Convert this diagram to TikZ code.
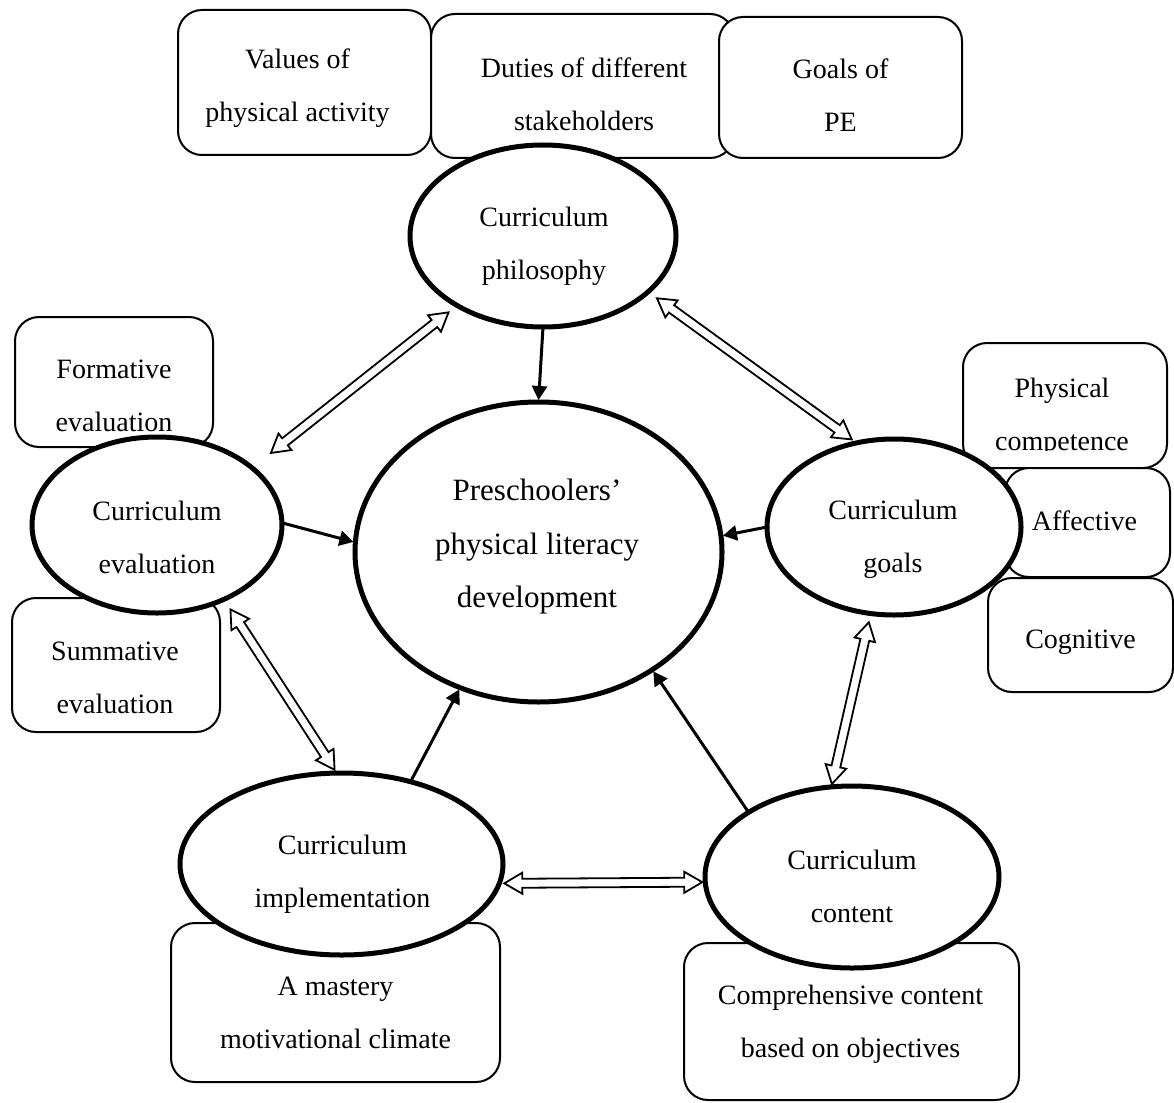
\documentclass[tikz,border=0pt]{standalone}
\usepackage{fontspec}
\setmainfont{Liberation Serif}
\usetikzlibrary{shapes.geometric,arrows.meta,calc}

% text sizes
\newcommand\capfont{\fontsize{28}{53}\selectfont}
\newcommand\corefont{\fontsize{31}{53.5}\selectfont}

% outline double arrow: head length, barb half-width, shaft half-width
\newcommand\twhead{18pt}
\newcommand\twbarb{10.5pt}
\newcommand\twshaft{4.5pt}

% #1, #2: border points of the two nodes; #3, #4: gap left at each end
\newcommand\twoway[4]{%
  \coordinate (tw-a) at ($(#1)!#3!(#2)$);
  \coordinate (tw-b) at ($(#2)!#4!(#1)$);
  \draw[exchange] (tw-a)
    -- ($(tw-a)!\twhead!(tw-b)!\twbarb!90:(tw-b)$)
    -- ($(tw-a)!\twhead!(tw-b)!\twshaft!90:(tw-b)$)
    -- ($(tw-b)!\twhead!(tw-a)!\twshaft!-90:(tw-a)$)
    -- ($(tw-b)!\twhead!(tw-a)!\twbarb!-90:(tw-a)$)
    -- (tw-b)
    -- ($(tw-b)!\twhead!(tw-a)!\twbarb!90:(tw-a)$)
    -- ($(tw-b)!\twhead!(tw-a)!\twshaft!90:(tw-a)$)
    -- ($(tw-a)!\twhead!(tw-b)!\twshaft!-90:(tw-b)$)
    -- ($(tw-a)!\twhead!(tw-b)!\twbarb!-90:(tw-b)$)
    -- cycle;
}

\tikzset{
  card/.style={draw, line width=2pt, rounded corners=24pt, fill=white, inner sep=0pt},
  bubble/.style={draw, ellipse, line width=5pt, fill=white, inner sep=0pt, outer sep=0pt},
  caption/.style={align=center, inner sep=0pt, font=\capfont},
  feeds/.style={line width=3pt, shorten >=2pt, -{Triangle[length=14pt,width=15pt]}},
  exchange/.style={draw, line width=1.8pt, fill=white, line join=miter},
}

\begin{document}
\begin{tikzpicture}[x=1pt, y=-1pt]
\useasboundingbox (0,0) rectangle (1174,1102);

% philosophy sources
\node[card, minimum width=253pt, minimum height=145pt] (values) at (304.5,82.5) {};
\node[caption] (values-t) at ([shift={(-7,5.5)}]values.center) {Values of\\physical activity};
\node[card, minimum width=303pt, minimum height=144pt] (duties) at (582.5,86) {};
\node[caption] (duties-t) at ([shift={(1.5,8)}]duties.center) {Duties of different\\stakeholders};
\node[card, minimum width=243pt, minimum height=141pt] (pegoals) at (840.5,87.5) {};
\node[caption] (pegoals-t) at ([shift={(0,7.5)}]pegoals.center) {Goals of\\PE};

% goal domains
\node[card, minimum width=204pt, minimum height=125pt] (physical) at (1065,405.5) {};
\begin{scope}
  \clip (physical.north west) rectangle ([yshift=19pt]physical.south east);
  \node[caption] (physical-t) at ([shift={(-3,12)}]physical.center) {Physical\\competence};
\end{scope}
\node[card, minimum width=165pt, minimum height=109pt] (affective) at (1087.5,522.5) {};
\node[caption] (affective-t) at ([shift={(-3,-2)}]affective.center) {Affective};
\node[card, minimum width=185pt, minimum height=114pt] (cognitive) at (1080.5,635) {};
\node[caption] (cognitive-t) at ([shift={(0,7)}]cognitive.center) {Cognitive};

% evaluation types
\node[card, minimum width=198pt, minimum height=130pt] (formative) at (114,382) {};
\node[caption] (formative-t) at ([shift={(0,14)}]formative.center) {Formative\\evaluation};
\node[card, minimum width=208pt, minimum height=134pt] (summative) at (116,665) {};
\node[caption] (summative-t) at ([shift={(-1,12.5)}]summative.center) {Summative\\evaluation};

% implementation and content details
\node[card, minimum width=329pt, minimum height=159pt] (mastery) at (335.5,1002.5) {};
\node[caption] (mastery-t) at ([shift={(0,10)}]mastery.center) {A mastery\\motivational climate};
\node[card, minimum width=335pt, minimum height=157pt] (comprehensive) at (851.5,1021.5) {};
\node[caption] (comprehensive-t) at ([shift={(-1,3)}]comprehensive.center) {Comprehensive content\\based on objectives};

% curriculum components
\node[bubble, minimum width=266pt, minimum height=182pt] (phil) at (543,236) {};
\node[caption] (phil-t) at ([shift={(1,10.5)}]phil.center) {Curriculum\\philosophy};
\node[bubble, minimum width=367pt, minimum height=300pt] (central) at (538.5,552) {};
\node[caption, font=\corefont] (central-t) at ([shift={(-1.5,-5)}]central.center) {Preschoolers’\\physical literacy\\development};
\node[bubble, minimum width=254pt, minimum height=176pt] (goals) at (894,527) {};
\begin{scope}
  \clip ([shift={(-130,-90)}]goals.center) rectangle ([shift={(130,51)}]goals.center);
  \node[caption] (goals-t) at ([shift={(-1,12.5)}]goals.center) {Curriculum\\goals};
\end{scope}
\node[bubble, minimum width=250pt, minimum height=176pt] (eval) at (157,525) {};
\node[caption] (eval-t) at ([shift={(0,12.5)}]eval.center) {Curriculum\\evaluation};
\node[bubble, minimum width=323pt, minimum height=182pt] (impl) at (341.5,864) {};
\node[caption] (impl-t) at ([shift={(1,10)}]impl.center) {Curriculum\\implementation};
\node[bubble, minimum width=294pt, minimum height=182pt] (content) at (852,877) {};
\node[caption] (content-t) at ([shift={(0,9.5)}]content.center) {Curriculum\\content};

% influences on development
\draw[feeds] (phil.south) -- (central.north);
\draw[feeds] (goals.west) -- (central.5);
\draw[feeds] (eval.1) -- (central.177);
\draw[feeds] (impl.50) -- (central.-120);
\draw[feeds] (content.148) -- (central.-46);

% mutual links between components
\twoway{phil.-141}{eval.31}{11pt}{24pt}
\twoway{phil.-28}{goals.114}{11pt}{6pt}
\twoway{eval.-48}{impl.93}{12pt}{4pt}
\twoway{goals.-105}{content.103}{9pt}{3pt}
\twoway{impl.-7}{content.-178}{5pt}{3pt}
\end{tikzpicture}
\end{document}
